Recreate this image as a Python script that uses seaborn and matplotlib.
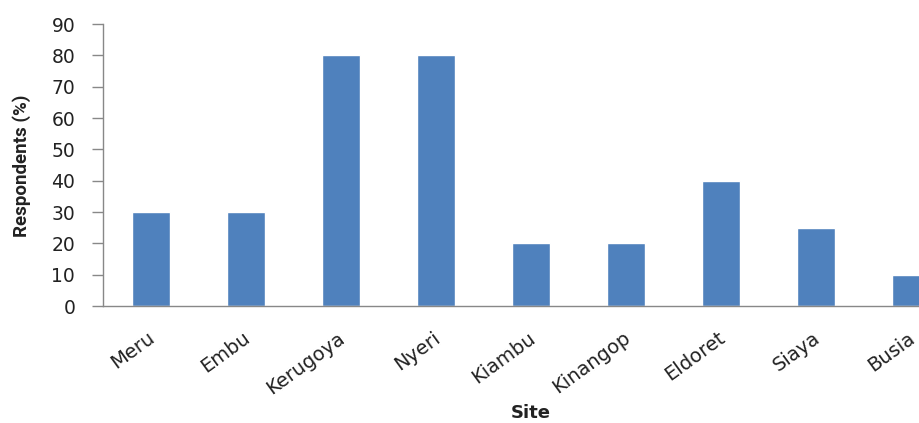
import matplotlib
matplotlib.use("Agg")
import matplotlib.pyplot as plt
from matplotlib.transforms import ScaledTranslation
import seaborn as sns
import pandas as pd

sites = ["Meru", "Embu", "Kerugoya", "Nyeri", "Kiambu", "Kinangop", "Eldoret", "Siaya", "Busia"]
respondents = [30, 30, 80, 80, 20, 20, 40, 25, 10]
yticks = [0, 10, 20, 30, 40, 50, 60, 70, 80, 90]

df = pd.DataFrame({"Site": sites, "Respondents": respondents})

sns.set_theme(style="white")
plt.rcParams["font.family"] = ["DejaVu Sans"]

W, H = 919, 423
fig = plt.figure(figsize=(W / 100, H / 100), dpi=100)
left, right_px = 103, 958
bottom_px, top_px = 306, 24
ax = fig.add_axes([left / W, (H - bottom_px) / H, (right_px - left) / W, (bottom_px - top_px) / H])

sns.barplot(data=df, x="Site", y="Respondents", color="#4F81BD", width=0.4,
            saturation=1, ax=ax, order=sites)

ax.set_xlim(-0.5, len(sites) - 0.5)
ax.set_ylim(0, 90)
ax.set_yticks(yticks)
ax.set_yticklabels([str(t) for t in yticks], fontsize=13.5, color="#222222")
ax.set_xticks(range(len(sites)))
ax.set_xticklabels(sites, rotation=36, ha="right", rotation_mode="anchor",
                   fontsize=14, color="#222222")
ax.tick_params(axis="x", length=0, pad=16)
shift = ScaledTranslation(-0.03, 0.0, fig.dpi_scale_trans)
for lab in ax.get_xticklabels():
    lab.set_transform(lab.get_transform() + shift)
ax.set_xticks([i - 0.5 for i in range(len(sites) + 1)], minor=True)
ax.tick_params(axis="x", which="minor", length=5, width=1, color="#888888", direction="out")
ax.tick_params(axis="y", length=8, width=1, color="#888888", direction="out", left=True, pad=12)

for s in ["top", "right"]:
    ax.spines[s].set_visible(False)
for s in ["left", "bottom"]:
    ax.spines[s].set_color("#888888")
    ax.spines[s].set_linewidth(1)

ax.set_ylabel("")
ax.set_xlabel("")
fig.text(22 / W, 1 - 166 / H, "Respondents (%)", fontsize=13.5, fontweight="bold",
         rotation=90, ha="center", va="center", color="#222222",
         family=["Liberation Sans Narrow", "Roboto", "DejaVu Sans"])
fig.text(531 / W, 1 - 413 / H, "Site", fontsize=13, fontweight="bold",
         ha="center", va="center", color="#222222")

fig.savefig("out.png", dpi=100)
